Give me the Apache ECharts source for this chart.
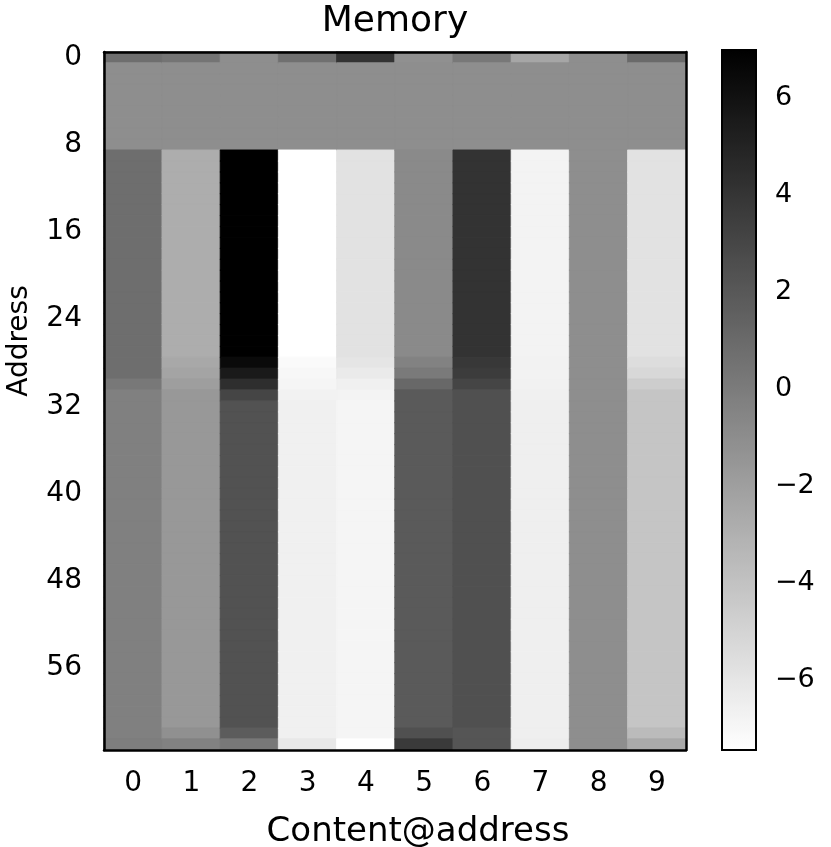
<!DOCTYPE html>
<html><head><meta charset="utf-8">
<script src="https://cdn.jsdelivr.net/npm/echarts@6/dist/echarts.min.js"></script>
<style>html,body{margin:0;padding:0;background:#fff}#c{width:831px;height:847px}</style>
</head><body><div id="c"></div>
<script>
// Content@address columns and 64 memory addresses
const contentCols = ['0','1','2','3','4','5','6','7','8','9'];
const addresses = Array.from({length: 64}, (_, i) => String(i));
const colorbarTicks = [-6, -4, -2, 0, 2, 4, 6];
const vMin = -7.44, vMax = 6.99;

// memory value per address (rows 0..63), one array per content column
const col0 = [
  0.77,-1.05,-1.05,-1.05,-1.05,-1.05,-1.05,-1.05,
  -1.05,0.77,0.77,0.77,0.77,0.77,0.77,0.77,
  0.77,0.77,0.77,0.77,0.77,0.77,0.77,0.77,
  0.77,0.77,0.77,0.77,0.77,0.77,0.20,-0.25,
  -0.25,-0.25,-0.25,-0.25,-0.25,-0.25,-0.25,-0.25,
  -0.25,-0.25,-0.25,-0.25,-0.25,-0.25,-0.25,-0.25,
  -0.25,-0.25,-0.25,-0.25,-0.25,-0.25,-0.25,-0.25,
  -0.25,-0.25,-0.25,-0.25,-0.25,-0.25,-0.25,-0.14];
const col1 = [
  0.43,-1.05,-1.05,-1.05,-1.05,-1.05,-1.05,-1.05,
  -1.05,-2.80,-2.80,-2.80,-2.80,-2.80,-2.80,-2.80,
  -2.80,-2.80,-2.80,-2.80,-2.80,-2.80,-2.80,-2.80,
  -2.80,-2.80,-2.80,-2.80,-2.52,-2.29,-1.95,-1.61,
  -1.61,-1.61,-1.61,-1.61,-1.61,-1.61,-1.61,-1.61,
  -1.61,-1.61,-1.61,-1.61,-1.61,-1.61,-1.61,-1.61,
  -1.61,-1.61,-1.61,-1.61,-1.61,-1.61,-1.61,-1.61,
  -1.61,-1.61,-1.61,-1.61,-1.61,-1.61,-1.16,-0.37];
const col2 = [
  -1.05,-1.05,-1.05,-1.05,-1.05,-1.05,-1.05,-1.05,
  -1.05,6.99,6.99,6.99,6.99,6.99,6.99,6.99,
  6.99,6.99,6.99,6.99,6.99,6.99,6.99,6.99,
  6.99,6.99,6.99,6.99,6.42,5.52,4.39,3.09,
  2.35,2.35,2.35,2.35,2.35,2.35,2.35,2.35,
  2.35,2.35,2.35,2.35,2.35,2.35,2.35,2.35,
  2.35,2.35,2.35,2.35,2.35,2.35,2.35,2.35,
  2.35,2.35,2.35,2.35,2.35,2.35,1.78,0.20];
const col3 = [
  0.65,-1.05,-1.05,-1.05,-1.05,-1.05,-1.05,-1.05,
  -1.05,-7.44,-7.44,-7.44,-7.44,-7.44,-7.44,-7.44,
  -7.44,-7.44,-7.44,-7.44,-7.44,-7.44,-7.44,-7.44,
  -7.44,-7.44,-7.44,-7.44,-7.16,-7.00,-6.87,-6.70,
  -6.59,-6.59,-6.59,-6.59,-6.59,-6.59,-6.59,-6.59,
  -6.59,-6.59,-6.59,-6.59,-6.59,-6.59,-6.59,-6.59,
  -6.59,-6.59,-6.59,-6.59,-6.59,-6.59,-6.59,-6.59,
  -6.59,-6.59,-6.59,-6.59,-6.59,-6.59,-6.59,-6.14];
const col4 = [
  4.10,-1.05,-1.05,-1.05,-1.05,-1.05,-1.05,-1.05,
  -1.05,-5.80,-5.80,-5.80,-5.80,-5.80,-5.80,-5.80,
  -5.80,-5.80,-5.80,-5.80,-5.80,-5.80,-5.80,-5.80,
  -5.80,-5.80,-5.80,-5.80,-5.97,-6.25,-6.59,-6.76,
  -6.87,-6.87,-6.87,-6.87,-6.87,-6.87,-6.87,-6.87,
  -6.87,-6.87,-6.87,-6.87,-6.87,-6.87,-6.87,-6.87,
  -6.87,-6.87,-6.87,-6.87,-6.87,-6.87,-6.87,-6.87,
  -6.87,-6.87,-6.87,-6.87,-6.87,-6.87,-6.87,-7.44];
const col5 = [
  -1.16,-1.05,-1.05,-1.05,-1.05,-1.05,-1.05,-1.05,
  -1.05,-0.82,-0.82,-0.82,-0.82,-0.82,-0.82,-0.82,
  -0.82,-0.82,-0.82,-0.82,-0.82,-0.82,-0.82,-0.82,
  -0.82,-0.82,-0.82,-0.82,-0.37,0.09,1.10,1.90,
  1.90,1.90,1.90,1.90,1.90,1.90,1.90,1.90,
  1.90,1.90,1.90,1.90,1.90,1.90,1.90,1.90,
  1.90,1.90,1.90,1.90,1.90,1.90,1.90,1.90,
  1.90,1.90,1.90,1.90,1.90,1.90,2.46,3.71];
const col6 = [
  0.20,-1.05,-1.05,-1.05,-1.05,-1.05,-1.05,-1.05,
  -1.05,4.10,4.10,4.10,4.10,4.10,4.10,4.10,
  4.10,4.10,4.10,4.10,4.10,4.10,4.10,4.10,
  4.10,4.10,4.10,4.10,3.82,3.60,3.09,2.46,
  2.46,2.46,2.46,2.46,2.46,2.46,2.46,2.46,
  2.46,2.46,2.46,2.46,2.46,2.46,2.46,2.46,
  2.46,2.46,2.46,2.46,2.46,2.46,2.46,2.46,
  2.46,2.46,2.46,2.46,2.46,2.46,2.18,2.18];
const col7 = [
  -2.40,-1.05,-1.05,-1.05,-1.05,-1.05,-1.05,-1.05,
  -1.05,-6.76,-6.76,-6.76,-6.76,-6.76,-6.76,-6.76,
  -6.76,-6.76,-6.76,-6.76,-6.76,-6.76,-6.76,-6.76,
  -6.76,-6.76,-6.76,-6.76,-6.70,-6.70,-6.65,-6.59,
  -6.53,-6.53,-6.53,-6.53,-6.53,-6.53,-6.53,-6.53,
  -6.53,-6.53,-6.53,-6.53,-6.53,-6.53,-6.53,-6.53,
  -6.53,-6.53,-6.53,-6.53,-6.53,-6.53,-6.53,-6.53,
  -6.53,-6.53,-6.53,-6.53,-6.53,-6.53,-6.53,-6.42];
const col8 = [
  -1.05,-1.05,-1.05,-1.05,-1.05,-1.05,-1.05,-1.05,
  -1.05,-1.05,-1.05,-1.05,-1.05,-1.05,-1.05,-1.05,
  -1.05,-1.05,-1.05,-1.05,-1.05,-1.05,-1.05,-1.05,
  -1.05,-1.05,-1.05,-1.05,-1.05,-1.05,-1.05,-1.05,
  -1.05,-1.05,-1.05,-1.05,-1.05,-1.05,-1.05,-1.05,
  -1.05,-1.05,-1.05,-1.05,-1.05,-1.05,-1.05,-1.05,
  -1.05,-1.05,-1.05,-1.05,-1.05,-1.05,-1.05,-1.05,
  -1.05,-1.05,-1.05,-1.05,-1.05,-1.05,-1.05,-1.05];
const col9 = [
  0.99,-1.05,-1.05,-1.05,-1.05,-1.05,-1.05,-1.05,
  -1.05,-5.80,-5.80,-5.80,-5.80,-5.80,-5.80,-5.80,
  -5.80,-5.80,-5.80,-5.80,-5.80,-5.80,-5.80,-5.80,
  -5.80,-5.80,-5.80,-5.80,-5.52,-5.23,-4.61,-4.16,
  -4.16,-4.16,-4.16,-4.16,-4.16,-4.16,-4.16,-4.16,
  -4.16,-4.16,-4.16,-4.16,-4.16,-4.16,-4.16,-4.16,
  -4.16,-4.16,-4.16,-4.16,-4.16,-4.16,-4.16,-4.16,
  -4.16,-4.16,-4.16,-4.16,-4.16,-4.16,-3.60,-2.63];

const columns = [col0, col1, col2, col3, col4, col5, col6, col7, col8, col9];

// reversed gray colormap (used only to paint a seam-hiding border of the same tone)
function grayOf(v) {
  const t = Math.max(0, Math.min(1, (v - vMin) / (vMax - vMin)));
  const g = Math.round(255 * (1 - t));
  return 'rgb(' + g + ',' + g + ',' + g + ')';
}
const cells = [];
columns.forEach((col, x) => col.forEach((v, y) => cells.push({
  value: [x, y, v],
  itemStyle: {borderColor: grayOf(v), borderWidth: 0.8}
})));

const FONT = 'DejaVu Sans';
const minus = v => String(v).replace('-', '\u2212');
const lineStyle = {color: '#000', width: 2.5};
const tickStyle = {color: '#000', width: 2};

const chart = echarts.init(document.getElementById('c'), null, {renderer: 'canvas'});
chart.setOption({
  animation: false,
  backgroundColor: '#fff',
  textStyle: {fontFamily: FONT, color: '#000'},
  grid: [
    {left: 104, top: 52, width: 582, height: 698, show: false, containLabel: false, outerBoundsMode: 'none'},
    {left: 722, top: 50, width: 34, height: 700, show: true, borderColor: '#000', borderWidth: 2,
     backgroundColor: 'transparent', z: 10, containLabel: false, outerBoundsMode: 'none'}
  ],
  xAxis: [
    {gridIndex: 0, type: 'category', data: contentCols, position: 'bottom', z: 5,
     name: 'Content@address', nameLocation: 'middle', nameGap: 65,
     nameTextStyle: {fontSize: 34, fontFamily: FONT, color: '#000', padding: [0, 0, 0, 46]},
     axisLine: {lineStyle}, axisTick: {length: 8, lineStyle: tickStyle, alignWithLabel: true},
     axisLabel: {fontSize: 28, fontFamily: FONT, color: '#000', margin: 20}, splitLine: {show: false}},
    {gridIndex: 0, type: 'category', data: contentCols, position: 'top', z: 5,
     name: 'Memory', nameLocation: 'middle', nameGap: 12,
     nameTextStyle: {fontSize: 36, fontFamily: FONT, color: '#000'},
     axisLine: {lineStyle}, axisTick: {show: false}, axisLabel: {show: false}},
    {gridIndex: 1, type: 'value', min: 0, max: 1, show: false}
  ],
  yAxis: [
    {gridIndex: 0, type: 'category', data: addresses, inverse: true, position: 'left', z: 5,
     name: 'Address', nameLocation: 'middle', nameGap: 70,
     nameTextStyle: {fontSize: 28, fontFamily: FONT, color: '#000', padding: [0, 0, 0, 120]},
     axisLine: {lineStyle}, axisTick: {length: 8, interval: 7, lineStyle: tickStyle, alignWithLabel: true},
     axisLabel: {interval: 7, fontSize: 28, fontFamily: FONT, color: '#000', margin: 22, padding: [5, 0, 0, 0]},
     splitLine: {show: false}},
    {gridIndex: 0, type: 'category', data: addresses, inverse: true, position: 'right', z: 5,
     axisLine: {lineStyle}, axisTick: {show: false}, axisLabel: {show: false}},
    {gridIndex: 1, type: 'value', min: vMin, max: vMax, position: 'right',
     axisLine: {show: false}, splitLine: {show: false},
     axisTick: {show: true, length: 8, lineStyle: tickStyle, customValues: colorbarTicks},
     axisLabel: {fontSize: 27, fontFamily: FONT, color: '#000', margin: 19, padding: [2, 0, 0, 0],
                 customValues: colorbarTicks, formatter: minus}}
  ],
  visualMap: {
    type: 'continuous', min: vMin, max: vMax, seriesIndex: 0, calculable: false,
    orient: 'vertical', left: 722, top: 50, itemWidth: 34, itemHeight: 700, padding: 0,
    text: null, showLabel: false, inRange: {color: ['#ffffff', '#000000']}
  },
  series: [{
    type: 'heatmap', xAxisIndex: 0, yAxisIndex: 0, data: cells,
    emphasis: {disabled: true}, progressive: 0
  }]
});
</script></body></html>
